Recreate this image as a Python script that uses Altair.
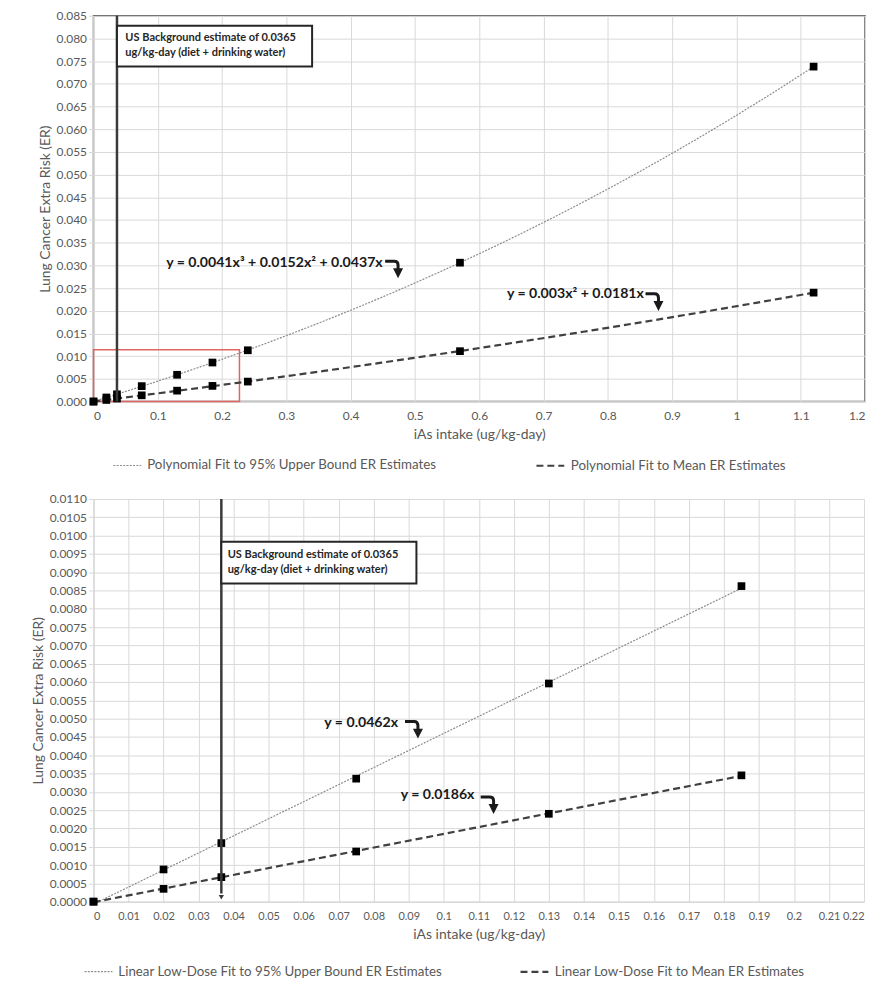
import altair as alt
import pandas as pd

# ---------------- data ----------------
top_x = [0, 0.02, 0.0365, 0.075, 0.13, 0.185, 0.24, 0.57, 1.12]
top_upper = [0, 0.0009, 0.0016, 0.0034, 0.0059, 0.0086, 0.0113, 0.0306, 0.0738]
top_mean = [0, 0.00035, 0.00067, 0.00137, 0.0024, 0.00345, 0.0044, 0.0111, 0.0240]

bot_x = [0, 0.02, 0.0365, 0.075, 0.13, 0.185]
bot_upper = [0, 0.00088, 0.0016, 0.00336, 0.00596, 0.00862]
bot_mean = [0, 0.00035, 0.00067, 0.00137, 0.0024, 0.00345]

top_series = ["Polynomial Fit to 95% Upper Bound ER Estimates",
              "Polynomial Fit to Mean ER Estimates"]
bot_series = ["Linear Low-Dose Fit to 95% Upper Bound ER Estimates",
              "Linear Low-Dose Fit to Mean ER Estimates"]

top_x_ticks = [0, 0.1, 0.2, 0.3, 0.4, 0.5, 0.6, 0.7, 0.8, 0.9, 1, 1.1, 1.2]
top_y_ticks = [0, 0.005, 0.01, 0.015, 0.02, 0.025, 0.03, 0.035, 0.04, 0.045,
               0.05, 0.055, 0.06, 0.065, 0.07, 0.075, 0.08, 0.085]
bot_x_ticks = [0, 0.01, 0.02, 0.03, 0.04, 0.05, 0.06, 0.07, 0.08, 0.09, 0.1, 0.11,
               0.12, 0.13, 0.14, 0.15, 0.16, 0.17, 0.18, 0.19, 0.2, 0.21, 0.22]
bot_y_ticks = [0, 0.0005, 0.001, 0.0015, 0.002, 0.0025, 0.003, 0.0035, 0.004, 0.0045,
               0.005, 0.0055, 0.006, 0.0065, 0.007, 0.0075, 0.008, 0.0085, 0.009,
               0.0095, 0.01, 0.0105, 0.011]

background_x = 0.0365
bg_text = ["US Background estimate of 0.0365", "ug/kg-day (diet + drinking water)"]

top_box_x = [0.0365, 0.340]
top_box_y = [0.0738, 0.0828]
top_bg_text_x = 0.0495
top_bg_text_y = [0.0802, 0.0767]

bot_box_x = [0.0365, 0.0922]
bot_box_y = [0.00869, 0.00983]
bot_bg_text_x = 0.0383
bot_bg_text_y = [0.00948, 0.00907]

red_box_x = [0, 0.227]
red_box_y = [0, 0.0114]

top_eq_text = ["y = 0.0041x³ + 0.0152x² + 0.0437x", "y = 0.003x² + 0.0181x"]
top_eq_x = [0.113, 0.643]
top_eq_y = [0.0305, 0.0237]
top_arrow_x = [0.467, 0.872]
top_arrow_y = [0.0298, 0.0226]

bot_eq_text = ["y = 0.0462x", "y = 0.0186x"]
bot_eq_x = [0.0659, 0.0877]
bot_eq_y = [0.00489, 0.00291]
bot_arrow_x = [0.0914, 0.1130]
bot_arrow_y = [0.00478, 0.00272]

# hook-shaped arrow (right, then curving down), drawn as a custom symbol
ARROW_PATH = "M -1 -0.6 L 0.05 -0.6 Q 0.5 -0.6 0.5 -0.15 L 0.5 0.4 M 0.2 0.4 L 0.8 0.4 L 0.5 1.0 Z"
LABEL_GRAY = "#595959"


def make_panel(xs, ups, means, series, x_dom, y_dom, x_ticks, y_ticks, y_fmt,
               poly_orders, box_x, box_y, txt_x, txt_y, eq_text, eq_x, eq_y,
               ar_x, ar_y, legend_x, legend_y, col_pad, rule_bottom, x_label_size,
               red_box=None, arrow_tip=None, w=776, h=388):
    n = len(xs)
    df = pd.DataFrame({"x": xs + xs, "y": ups + means,
                       "series": [series[0]] * n + [series[1]] * n})

    X = alt.X("x:Q", scale=alt.Scale(domain=x_dom, nice=False, zero=False),
              axis=alt.Axis(values=x_ticks, format="~g", title="iAs intake (ug/kg-day)",
                            ticks=False, labelPadding=9, titlePadding=6,
                            labelOverlap=False, labelFontSize=x_label_size))
    Y = alt.Y("y:Q", scale=alt.Scale(domain=y_dom, nice=False, zero=False),
              axis=alt.Axis(values=y_ticks, format=y_fmt, labelOverlap=False,
                            title="Lung Cancer Extra Risk (ER)", titlePadding=4))

    leg = alt.Legend(title=None, orient="none", legendX=legend_x, legendY=legend_y,
                     direction="horizontal", symbolType="stroke", symbolSize=784,
                     labelFontSize=13.4, labelColor=LABEL_GRAY, columnPadding=col_pad,
                     labelLimit=600, labelOffset=5)
    color = alt.Color("series:N", scale=alt.Scale(domain=series, range=["#8c8c8c", "#404040"]), legend=leg)
    dash = alt.StrokeDash("series:N", scale=alt.Scale(domain=series, range=[[2, 1.3], [7, 4]]), legend=leg)
    sw = alt.StrokeWidth("series:N", scale=alt.Scale(domain=series, range=[1.2, 2.2]), legend=leg)

    layers = []

    if red_box is not None:
        rb = pd.DataFrame({"x": [red_box[0][0]], "x2": [red_box[0][1]],
                           "y": [red_box[1][0]], "y2": [red_box[1][1]]})
        layers.append(alt.Chart(rb).mark_rect(fillOpacity=0, stroke="#e06666", strokeWidth=1.5)
                      .encode(x=X, x2="x2:Q", y=Y, y2="y2:Q"))

    for i, s in enumerate(series):
        order = poly_orders[i]
        base = alt.Chart(df).transform_filter(alt.datum.series == s)
        if order == 1:
            base = base.transform_regression("x", "y", method="linear", groupby=["series"])
        else:
            base = base.transform_regression("x", "y", method="poly", order=order, groupby=["series"])
        layers.append(base.mark_line().encode(x=X, y=Y, color=color, strokeDash=dash, strokeWidth=sw))

    layers.append(alt.Chart(df).mark_square(color="black", size=60, opacity=1)
                  .encode(x=X, y=Y))

    rule_df = pd.DataFrame({"x": [background_x], "y": [rule_bottom], "y2": [y_dom[1]]})
    layers.append(alt.Chart(rule_df).mark_rule(color="#3a3a3a", strokeWidth=2.5)
                  .encode(x=X, y=Y, y2="y2:Q"))
    if arrow_tip is not None:
        tip = pd.DataFrame({"x": [background_x], "y": [arrow_tip]})
        layers.append(alt.Chart(tip).mark_point(shape="triangle-down", filled=True, size=28,
                                                color="#3a3a3a", opacity=1)
                      .encode(x=X, y=Y))

    box = pd.DataFrame({"x": [box_x[0]], "x2": [box_x[1]], "y": [box_y[0]], "y2": [box_y[1]]})
    layers.append(alt.Chart(box).mark_rect(fill="white", stroke="#262626", strokeWidth=2)
                  .encode(x=X, x2="x2:Q", y=Y, y2="y2:Q"))
    bt = pd.DataFrame({"x": [txt_x, txt_x], "y": txt_y, "t": bg_text})
    layers.append(alt.Chart(bt).mark_text(align="left", baseline="middle", fontSize=11.1,
                                          fontWeight="bold", color="#262626")
                  .encode(x=X, y=Y, text="t:N"))

    eq = pd.DataFrame({"x": eq_x, "y": eq_y, "t": eq_text})
    layers.append(alt.Chart(eq).mark_text(align="left", baseline="middle", fontSize=14.2,
                                          fontWeight="bold", color="#1a1a1a")
                  .encode(x=X, y=Y, text="t:N"))
    ar = pd.DataFrame({"x": ar_x, "y": ar_y})
    layers.append(alt.Chart(ar).mark_point(shape=ARROW_PATH, filled=False, size=300,
                                           strokeWidth=3, color="#1a1a1a", opacity=1)
                  .encode(x=X, y=Y))

    return alt.layer(*layers).properties(width=w, height=h)


top = make_panel(top_x, top_upper, top_mean, top_series, [0, 1.2], [0, 0.085],
                 top_x_ticks, top_y_ticks, ".3f", [3, 2], top_box_x, top_box_y,
                 top_bg_text_x, top_bg_text_y, top_eq_text, top_eq_x, top_eq_y,
                 top_arrow_x, top_arrow_y, 19, 437, 96, 0.0, 12,
                 red_box=(red_box_x, red_box_y), w=776, h=388
                 ).properties(view=alt.ViewBackground(stroke="#595959", strokeWidth=1.5))

bottom = make_panel(bot_x, bot_upper, bot_mean, bot_series, [0, 0.22], [0, 0.011],
                    bot_x_ticks, bot_y_ticks, ".4f", [1, 1], bot_box_x, bot_box_y,
                    bot_bg_text_x, bot_bg_text_y, bot_eq_text, bot_eq_x, bot_eq_y,
                    bot_arrow_x, bot_arrow_y, -10, 460, 74, 0.00022, 11,
                    arrow_tip=0.00012, w=775, h=405
                    ).properties(view=alt.ViewBackground(stroke=None))

chart = (
    alt.vconcat(top, bottom, spacing=20)
    .resolve_scale(x="independent", y="independent", color="independent",
                   strokeDash="independent", strokeWidth="independent")
    .resolve_legend(color="independent", strokeDash="independent", strokeWidth="independent")
    .properties(padding={"left": 23, "top": -2, "right": 5, "bottom": 5})
    .configure(font="Lato")
    .configure_axis(gridColor="#d9d9d9", gridWidth=1, domainColor="#d9d9d9", domainWidth=1.5,
                    tickColor="#d9d9d9", tickSize=5, labelColor=LABEL_GRAY, labelFontSize=12,
                    titleColor=LABEL_GRAY, titleFontSize=14, titleFontWeight="normal")
)

chart.save("out.html", embed_options={"renderer": "svg", "actions": False})
